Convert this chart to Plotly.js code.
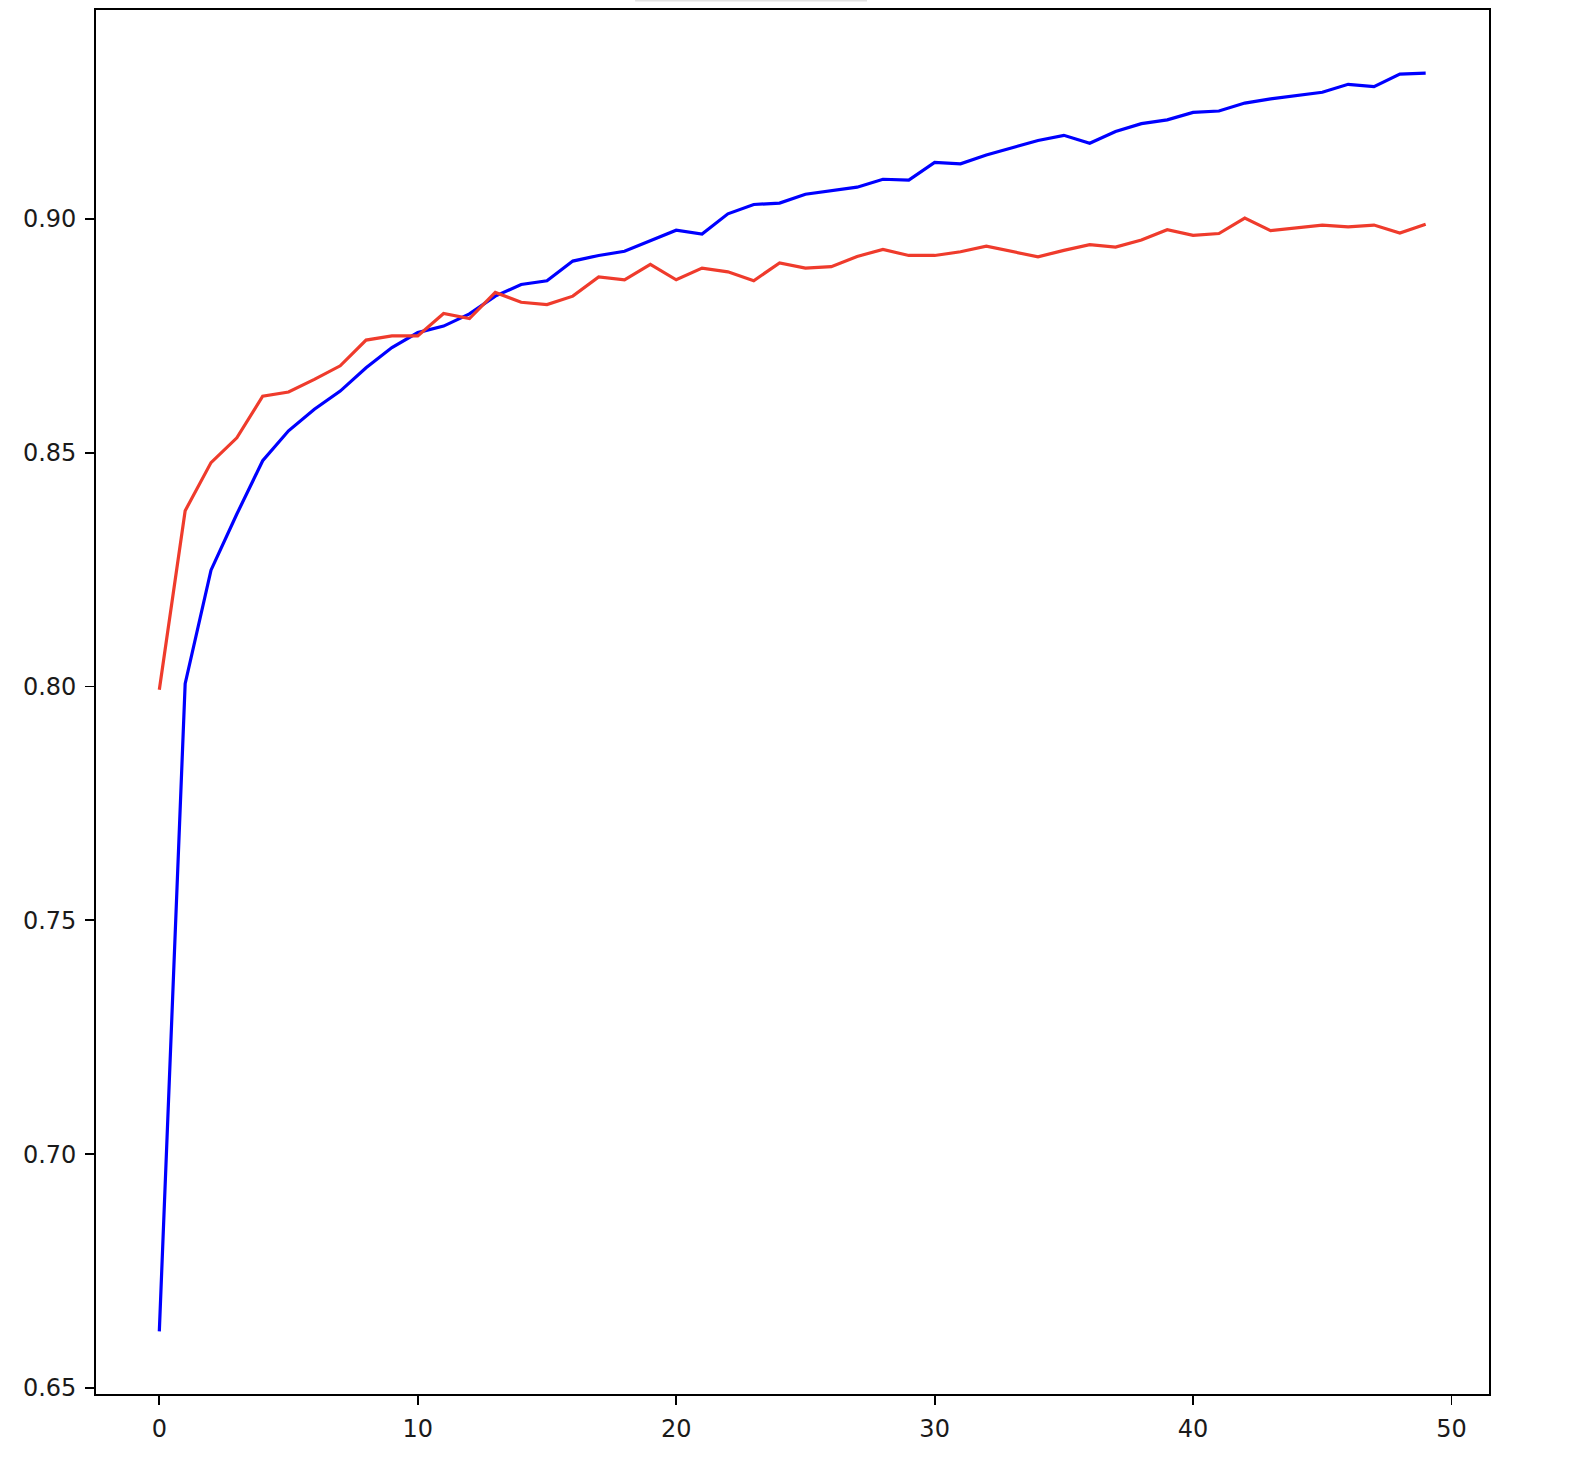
<!DOCTYPE html>
<html>
<head>
<meta charset="utf-8">
<script src="https://cdn.plot.ly/plotly-3.0.1.min.js"></script>
<style>html,body{margin:0;padding:0;background:#fff;}#chart{width:1580px;height:1462px;}</style>
</head>
<body>
<div id="chart"></div>
<script>
const epochs = Array.from({length: 50}, (_, i) => i);

const trainAcc = [
  0.6621, 0.8006, 0.8249, 0.8369, 0.8483, 0.8547, 0.8593, 0.8632, 0.8682, 0.8725,
  0.8757, 0.8771, 0.8797, 0.8835, 0.8860, 0.8868, 0.8910, 0.8922, 0.8931, 0.8954,
  0.8976, 0.8968, 0.9011, 0.9031, 0.9034, 0.9053, 0.9061, 0.9068, 0.9085, 0.9083,
  0.9121, 0.9118, 0.9137, 0.9152, 0.9168, 0.9179, 0.9162, 0.9187, 0.9204, 0.9212,
  0.9228, 0.9231, 0.9248, 0.9257, 0.9264, 0.9271, 0.9288, 0.9283, 0.9310, 0.9312
];

const valAcc = [
  0.7993, 0.8376, 0.8479, 0.8532, 0.8621, 0.8630, 0.8657, 0.8686, 0.8741, 0.8750,
  0.8750, 0.8798, 0.8787, 0.8843, 0.8822, 0.8817, 0.8835, 0.8876, 0.8870, 0.8903,
  0.8870, 0.8895, 0.8887, 0.8868, 0.8906, 0.8895, 0.8898, 0.8920, 0.8935, 0.8922,
  0.8922, 0.8930, 0.8942, 0.8931, 0.8919, 0.8933, 0.8945, 0.8940, 0.8955, 0.8977,
  0.8965, 0.8969, 0.9002, 0.8975, 0.8981, 0.8987, 0.8983, 0.8987, 0.8970, 0.8989
];

const xTicks = [0, 10, 20, 30, 40, 50];
const yTicks = [0.65, 0.70, 0.75, 0.80, 0.85, 0.90];
const yTickText = ['0.65', '0.70', '0.75', '0.80', '0.85', '0.90'];

const traces = [
  {x: epochs, y: trainAcc, type: 'scatter', mode: 'lines', name: 'train',
   line: {color: '#0000ff', width: 3.2}},
  {x: epochs, y: valAcc, type: 'scatter', mode: 'lines', name: 'validation',
   line: {color: '#ef3b2c', width: 3.2}}
];

const axisCommon = {
  showgrid: false, zeroline: false,
  showline: true, mirror: true, linecolor: '#000', linewidth: 1.8,
  ticks: 'outside', ticklen: 9, tickwidth: 1.8, tickcolor: '#000',
  tickfont: {family: 'DejaVu Sans', size: 24, color: '#1a1a1a'}
};

const layout = {
  width: 1580, height: 1462,
  margin: {l: 96, r: 91, t: 10, b: 68},
  paper_bgcolor: '#fff', plot_bgcolor: '#fff',
  showlegend: false,
  xaxis: Object.assign({}, axisCommon, {
    range: [-2.45, 51.45], tickvals: xTicks, ticklabelstandoff: 3
  }),
  yaxis: Object.assign({}, axisCommon, {
    range: [0.6487, 0.9447], tickvals: yTicks, ticktext: yTickText, ticklabelstandoff: 4
  }),
  shapes: [
    {type: 'line', xref: 'paper', yref: 'paper', x0: 0.387, x1: 0.5535,
     y0: 1.0069, y1: 1.0069, line: {color: '#e2e2e2', width: 2}}
  ]
};

Plotly.newPlot('chart', traces, layout, {displayModeBar: false, staticPlot: true});
</script>
</body>
</html>
